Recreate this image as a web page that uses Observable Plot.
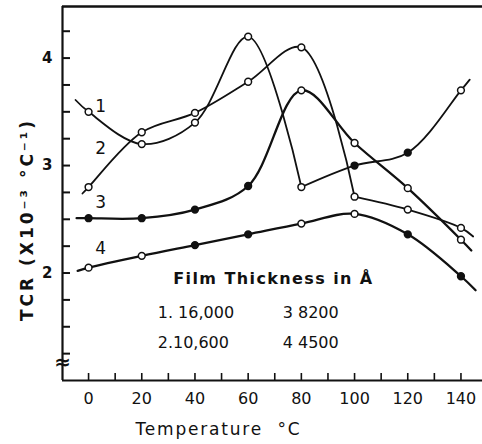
<!DOCTYPE html>
<html><head><meta charset="utf-8">
<script src="https://cdn.jsdelivr.net/npm/d3@7"></script>
<script src="https://cdn.jsdelivr.net/npm/@observablehq/plot@0.6"></script>
<style>body{margin:0;background:#fff}</style>
</head><body><div id="chart"></div>
<script>
// ---- data ----
const temps = [0, 20, 40, 60, 80, 100, 120, 140];
const series1 = [3.50, 3.20, 3.40, 4.20, 2.80, 3.00, 3.12, 3.70];
const series2 = [2.80, 3.31, 3.49, 3.78, 4.10, 2.71, 2.59, 2.42];
const series3 = [2.51, 2.51, 2.59, 2.81, 3.70, 3.21, 2.79, 2.31];
const series4 = [2.05, 2.16, 2.26, 2.36, 2.46, 2.55, 2.36, 1.97];
// where each drawn curve begins and ends (beyond the measured points)
const curveStartT = [-4.9, -2.3, -4.5, -4.1];
const curveStartV = [3.61, 2.74, 2.51, 2.02];
const curveEndT = [143.3, 144.6, 143.9, 145.5];
const curveEndV = [3.80, 2.34, 2.21, 1.84];
const seriesNames = ["1", "2", "3", "4"];
const legendTitle = "Film Thickness in Å";
const legendItems = ["1. 16,000", "2.10,600", "3 8200", "4 4500"];
const xTickLabels = [0, 20, 40, 60, 80, 100, 120, 140];
const xTicks = d3.range(0, 141, 10);
const yTickLabels = [2, 3, 4];
const yTicks = d3.range(1.25, 4.26, 0.25);
const xLabel = "Temperature  °C";
const yLabel = "TCR (X10⁻³ °C⁻¹)";

const allSeries = [series1, series2, series3, series4];
const xDomain = [-9.8, 148.1];
const yDomain = [1.0, 4.48];
const W = 482, H = 444, mL = 62, mR = 0, mT = 6, mB = 64;
const frameW = W - mL - mR, frameH = H - mT - mB;

// the hand-drawn curves have sharp corners at these temperatures
const cornerAt = [80, 100, null, null];

const pts = [];
const segments = [];
allSeries.forEach((vals, s) => {
  let seg = [{t: curveStartT[s], v: curveStartV[s]}];
  vals.forEach((v, i) => {
    pts.push({s, t: temps[i], v});
    seg.push({t: temps[i], v});
    if (temps[i] === cornerAt[s]) { segments.push({s, seg}); seg = [{t: temps[i], v}]; }
  });
  seg.push({t: curveEndT[s], v: curveEndV[s]});
  segments.push({s, seg});
});
// markers that appear solid in the original
const solid = new Set(["2-0","2-20","2-40","2-60","0-100","0-120","3-40","3-60","3-120","3-140"]);
const lineWidths = [1.8, 1.8, 2.3, 2.3];

const font = "DejaVu Sans";
const chart = Plot.plot({
  width: W, height: H,
  marginLeft: mL, marginRight: mR, marginTop: mT, marginBottom: mB,
  style: {fontFamily: font, fontSize: "15px", color: "#111", background: "#fff"},
  x: {domain: xDomain, label: null},
  y: {domain: yDomain, label: null},
  marks: [
    // frame lines
    Plot.ruleX([xDomain[0]], {strokeWidth: 2.2, stroke: "#111"}),
    Plot.ruleY([yDomain[0]], {strokeWidth: 2.2, stroke: "#111"}),
    Plot.ruleY([yDomain[1]], {strokeWidth: 2.6, stroke: "#111"}),
    // ticks inside the frame
    Plot.tickX(xTicks, {x: d => d, insetTop: frameH - 7, strokeWidth: 1.6, stroke: "#111"}),
    Plot.tickY(yTicks, {y: d => d, insetRight: frameW - 8, strokeWidth: 2, stroke: "#111"}),
    Plot.axisX(xTickLabels, {tickSize: 0, tickPadding: 12, fontSize: 16, tickFormat: d3.format("d"), label: null}),
    Plot.axisY(yTickLabels, {tickSize: 0, tickPadding: 10, fontSize: 15, fontWeight: "bold", tickFormat: d3.format("d"), label: null}),
    // curves
    ...segments.map(({s, seg}) => Plot.line(seg, {x: "t", y: "v", curve: "catmull-rom", stroke: "#111", strokeWidth: lineWidths[s]})),
    Plot.dot(pts, {x: "t", y: "v", r: 3.4, stroke: "#111", strokeWidth: 1.5,
      fill: d => solid.has(`${d.s}-${d.t}`) ? "#111" : "#fff"}),
    // curve numbers
    Plot.text(seriesNames, {x: () => 4.5, y: (d, i) => [3.55, 3.16, 2.66, 2.23][i], text: d => d, fontSize: 17}),
    // legend block
    Plot.text([legendTitle], {x: () => 69.5, y: () => 1.95, text: d => d, fontSize: 16, fontWeight: "bold"}),
    Plot.text(legendItems, {x: (d, i) => i < 2 ? 26 : 73, y: (d, i) => i % 2 === 0 ? 1.63 : 1.35, text: d => d, textAnchor: "start", fontSize: 16}),
    // axis break symbol
    Plot.text(["≈"], {x: () => xDomain[0], y: () => 1.17, text: d => d, fontSize: 20, fontWeight: "bold"}),
    // axis titles
    Plot.text([xLabel], {frameAnchor: "bottom", text: d => d, textAnchor: "middle", dx: -54, dy: 54, fontSize: 17}),
    Plot.text([yLabel], {frameAnchor: "left", text: d => d, textAnchor: "middle", rotate: -90, dx: -35, dy: 26, fontSize: 17, fontWeight: "bold"})
  ]
});
// the original lettering is widely spaced
const spacing = new Map([[xLabel, 1.8], [yLabel, 3], [legendTitle, 1.4]]);
d3.select(chart).selectAll("text").each(function () {
  const ls = spacing.get(this.textContent);
  if (ls) d3.select(this).attr("letter-spacing", ls);
});
document.getElementById("chart").appendChild(chart);
</script>
</body></html>
